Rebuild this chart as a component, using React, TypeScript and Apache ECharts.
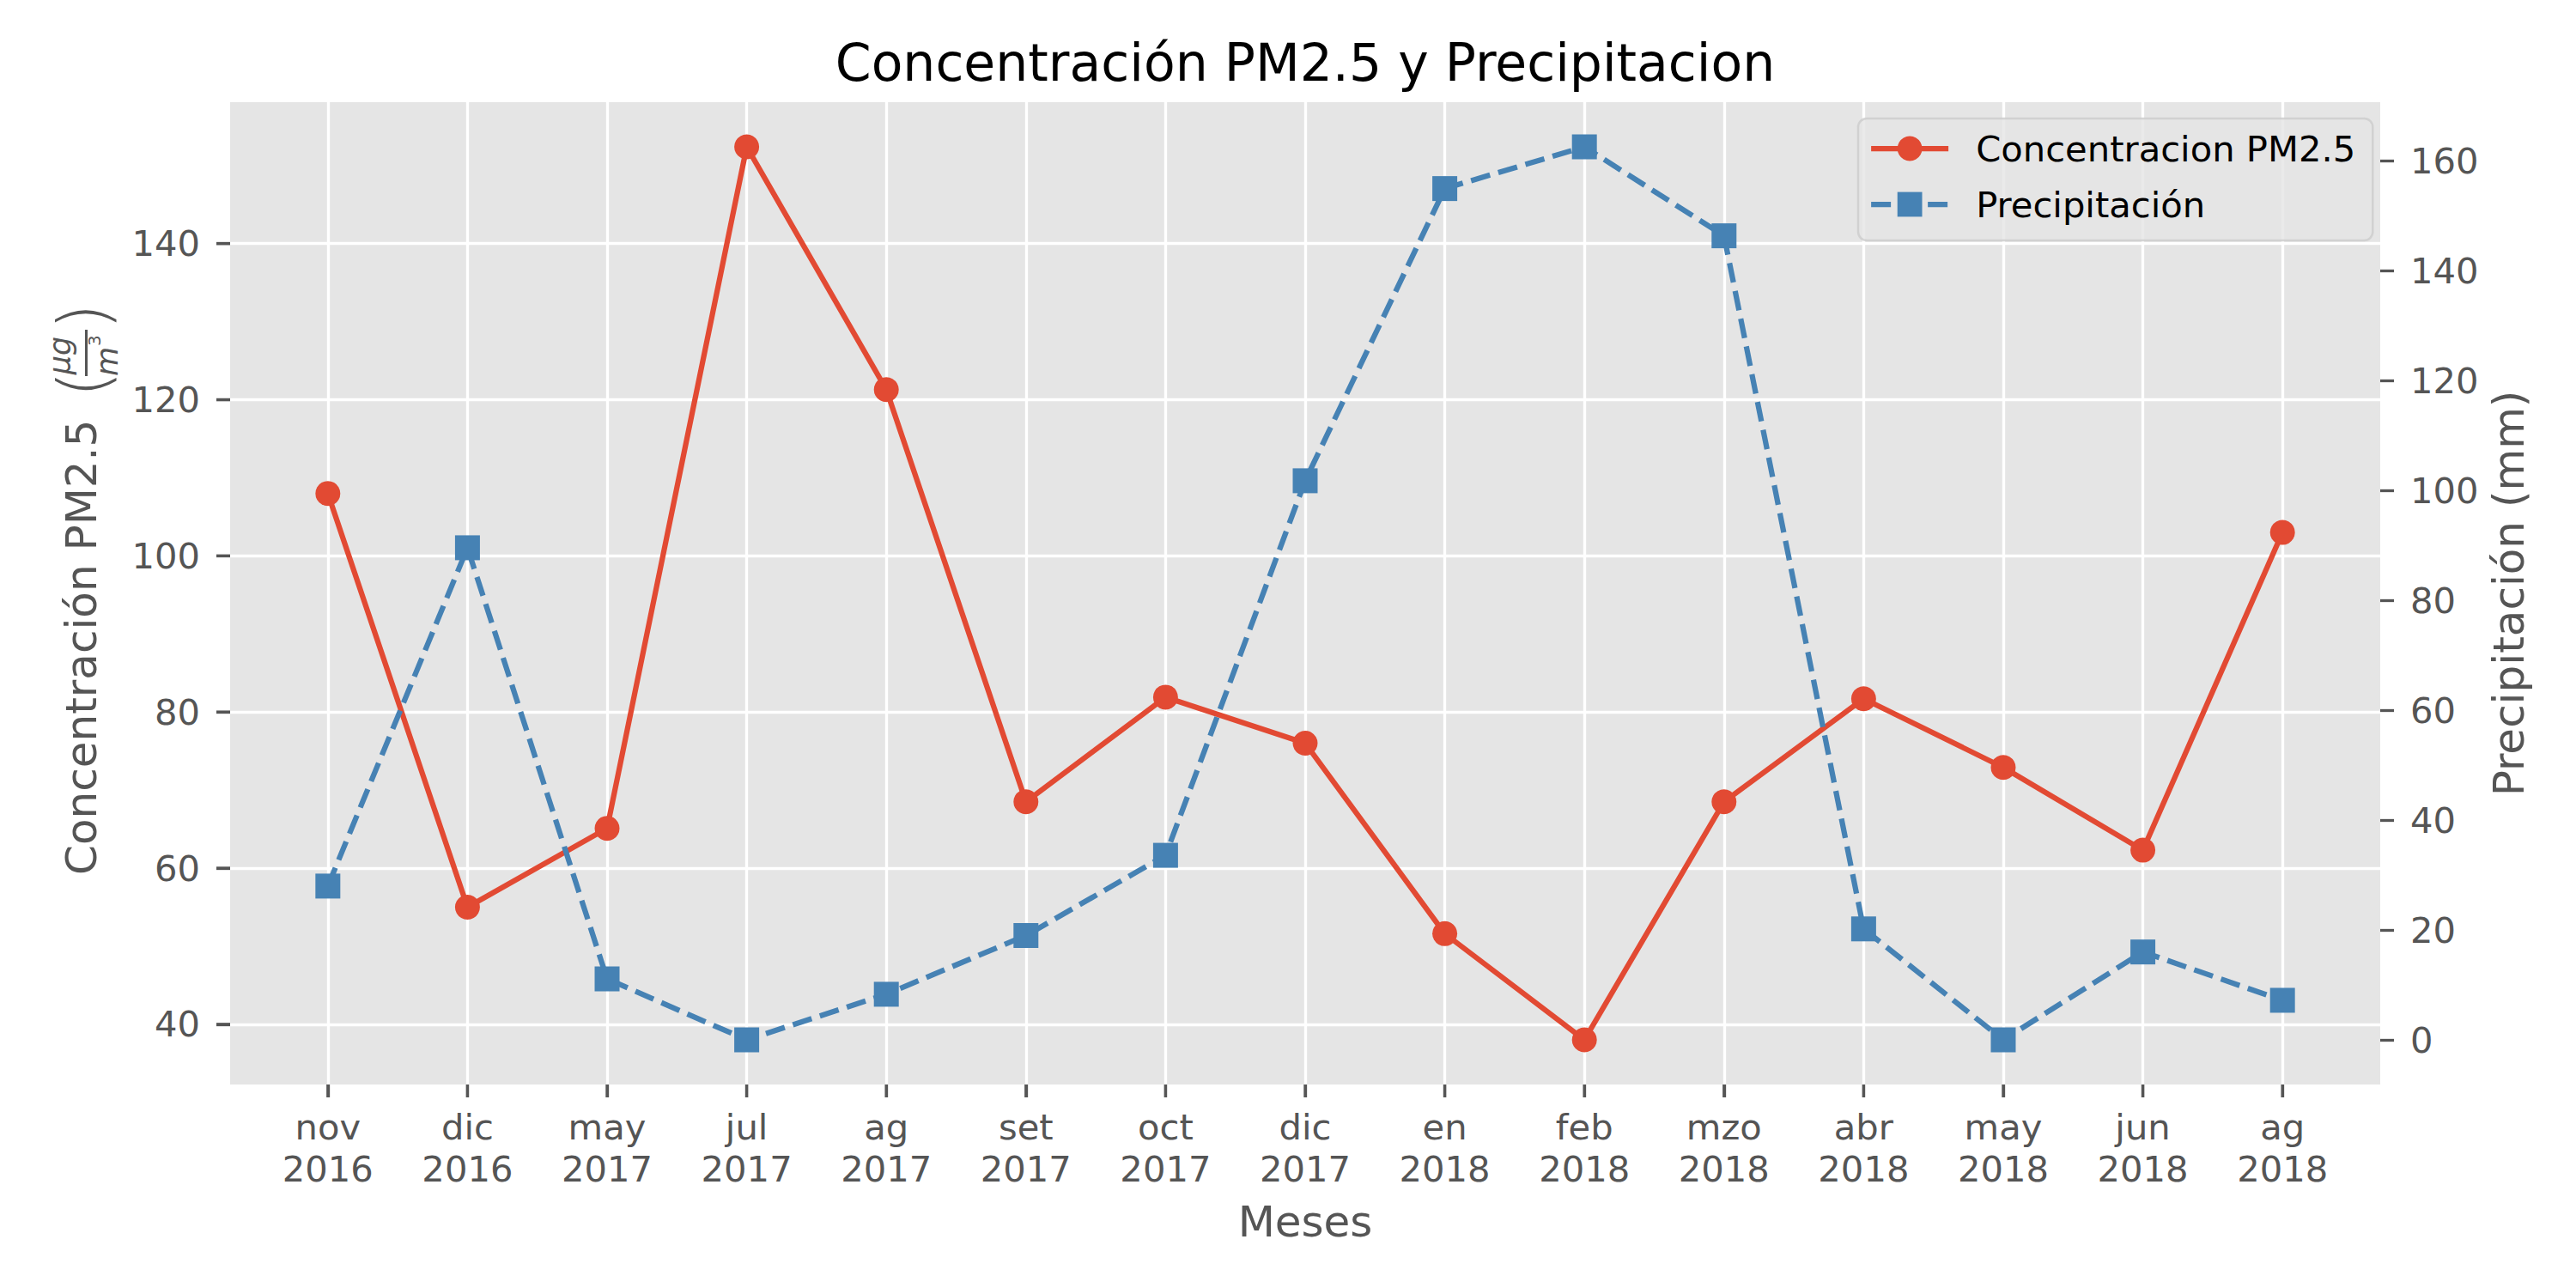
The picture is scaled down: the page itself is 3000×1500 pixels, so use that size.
import React, { useEffect, useRef } from 'react';
import * as echarts from 'echarts';

const months = ['nov', 'dic', 'may', 'jul', 'ag', 'set', 'oct', 'dic', 'en', 'feb', 'mzo', 'abr', 'may', 'jun', 'ag'];
const years = ['2016', '2016', '2017', '2017', '2017', '2017', '2017', '2017', '2018', '2018', '2018', '2018', '2018', '2018', '2018'];
const pm25 = [108.0, 55.0, 65.1, 152.4, 121.3, 68.5, 81.9, 76.0, 51.6, 38.0, 68.5, 81.7, 72.9, 62.3, 103.0];
const precip = [28.0, 89.6, 11.1, 0.0, 8.3, 19.0, 33.6, 101.8, 155.0, 162.6, 146.4, 20.2, 0.0, 16.0, 7.2];
const leftTicks = [40, 60, 80, 100, 120, 140];
const rightTicks = [0, 20, 40, 60, 80, 100, 120, 140, 160];
const seriesNames = ['Concentracion PM2.5', 'Precipitación'];
const titleText = 'Concentración PM2.5 y Precipitacion';
const xName = 'Meses';
const yLeftName = 'Concentración PM2.5';
const yRightName = 'Precipitación (mm)';

const FONT = 'DejaVu Sans';
const RED = '#E24A33';
const BLUE = '#4682B4';
const GRAY = '#555555';

function padded(vals: number[]): [number, number] {
  const mn = Math.min(...vals);
  const mx = Math.max(...vals);
  const p = (mx - mn) * 0.05;
  return [mn - p, mx + p];
}

export default function App() {
  const ref = useRef<HTMLDivElement>(null);
  useEffect(() => {
    document.body.style.margin = '0';
    if (!ref.current) return;
    const chart = echarts.init(ref.current, undefined, { renderer: 'svg' });
    const idx = months.map((_, i) => i);
    const xr = padded([0, months.length - 1]);
    const lr = padded(pm25);
    const rr = padded(precip);
    const tickStyle = { color: GRAY, width: 3.3 };
    const baseGraphic: any[] = [
      {
        type: 'text', x: 1520, y: 73,
        style: { text: titleText, fontSize: 60, fontFamily: FONT, fill: '#000000', textAlign: 'center', textVerticalAlign: 'middle' },
      },
      {
        type: 'group', x: 0, y: 690, rotation: Math.PI / 2,
        children: [
          { type: 'text', x: -329, y: 95, style: { text: yLeftName, fontSize: 50, fontFamily: FONT, fill: GRAY, textAlign: 'left', textVerticalAlign: 'middle' } },
          { type: 'text', x: 227, y: 97, style: { text: '(', fontSize: 80, fontWeight: 'lighter', fontFamily: FONT, fill: GRAY, textAlign: 'left', textVerticalAlign: 'middle' } },
          { type: 'text', x: 276, y: 70, style: { text: 'μg', fontSize: 35, fontStyle: 'italic', fontFamily: FONT, fill: GRAY, textAlign: 'center', textVerticalAlign: 'middle' } },
          { type: 'rect', shape: { x: 252, y: 99, width: 54, height: 3 }, style: { fill: GRAY } },
          { type: 'text', x: 252, y: 125, style: { text: 'm', fontSize: 35, fontStyle: 'italic', fontFamily: FONT, fill: GRAY, textAlign: 'left', textVerticalAlign: 'middle' } },
          { type: 'text', x: 287, y: 110, style: { text: '3', fontSize: 20, fontFamily: FONT, fill: GRAY, textAlign: 'left', textVerticalAlign: 'middle' } },
          { type: 'text', x: 337, y: 97, style: { text: ')', fontSize: 80, fontWeight: 'lighter', fontFamily: FONT, fill: GRAY, textAlign: 'right', textVerticalAlign: 'middle' } },
        ],
      },
    ];
    const option: any = {
      animation: false,
      backgroundColor: '#ffffff',
      textStyle: { fontFamily: FONT },
      grid: {
        left: 268, right: 228, top: 119, bottom: 237,
        show: true, backgroundColor: '#E5E5E5', borderWidth: 0,
        outerBoundsMode: 'none',
      },
      xAxis: {
        type: 'value', min: xr[0], max: xr[1], position: 'bottom',
        name: xName, nameLocation: 'middle', nameGap: 135,
        nameTextStyle: { fontSize: 50, color: GRAY, fontFamily: FONT },
        axisLine: { show: false, onZero: false },
        axisTick: { show: true, inside: false, customValues: idx, length: 15, lineStyle: tickStyle },
        axisLabel: {
          customValues: idx,
          formatter: (v: number) => months[Math.round(v)] + '\n' + years[Math.round(v)],
          fontSize: 41.7, color: GRAY, lineHeight: 49, margin: 25, fontFamily: FONT,
        },
        splitLine: { show: true, lineStyle: { color: '#ffffff', width: 3.3 } },
      },
      yAxis: [
        {
          type: 'value', min: lr[0], max: lr[1], position: 'left',
          axisLine: { show: false, onZero: false },
          axisTick: { show: true, inside: false, customValues: leftTicks, length: 16, lineStyle: tickStyle },
          axisLabel: { customValues: leftTicks, fontSize: 41.7, color: GRAY, margin: 35, fontFamily: FONT },
          splitLine: { show: true, lineStyle: { color: '#ffffff', width: 3.3 } },
        },
        {
          type: 'value', min: rr[0], max: rr[1], position: 'right',
          name: yRightName, nameLocation: 'middle', nameGap: 124,
          nameTextStyle: { fontSize: 50, color: GRAY, fontFamily: FONT },
          axisLine: { show: false, onZero: false },
          axisTick: { show: true, inside: false, customValues: rightTicks, length: 16, lineStyle: tickStyle },
          axisLabel: { customValues: rightTicks, fontSize: 41.7, color: GRAY, margin: 35, fontFamily: FONT },
          splitLine: { show: false },
        },
      ],
      legend: {
        data: seriesNames, orient: 'vertical', left: 2164, top: 138,
        itemWidth: 90, itemHeight: 36, itemGap: 23,
        padding: [14, 20, 21, 12],
        backgroundColor: 'rgba(229,229,229,0.8)',
        borderColor: 'rgba(204,204,204,0.8)', borderWidth: 2.5, borderRadius: 10,
        lineStyle: { width: 6.25 },
        textStyle: { fontSize: 41.7, color: '#000000', fontFamily: FONT, padding: [0, 0, 0, 27] },
        selectedMode: false,
      },
      series: [
        {
          name: seriesNames[0], type: 'line', xAxisIndex: 0, yAxisIndex: 0,
          data: pm25.map((v, i) => [i, v]),
          symbol: 'circle', symbolSize: 29,
          lineStyle: { color: RED, width: 6.25 },
          itemStyle: { color: RED },
          z: 3,
        },
        {
          name: seriesNames[1], type: 'line', xAxisIndex: 0, yAxisIndex: 1,
          data: precip.map((v, i) => [i, v]),
          symbol: 'rect', symbolSize: 29,
          lineStyle: { color: BLUE, width: 6.25, type: [23, 10] },
          itemStyle: { color: BLUE },
          z: 4,
        },
      ],
      graphic: baseGraphic,
    };
    chart.setOption(option);

    // Extra tick marks on the left and bottom edges, placed through the chart's own scales.
    const plotLeft = Number(chart.convertToPixel({ xAxisIndex: 0 }, xr[0]));
    const plotBottom = Number(chart.convertToPixel({ yAxisIndex: 0 }, lr[0]));
    const tickGraphics: any[] = [];
    if (isFinite(plotLeft) && isFinite(plotBottom)) {
      idx.forEach((i) => {
        const x = Number(chart.convertToPixel({ xAxisIndex: 0 }, i));
        if (!isFinite(x)) return;
        tickGraphics.push({
          type: 'rect', z: 1000, silent: true,
          shape: { x: x - 1.65, y: plotBottom, width: 3.3, height: 15 },
          style: { fill: GRAY },
        });
      });
      leftTicks.forEach((v) => {
        const y = Number(chart.convertToPixel({ yAxisIndex: 0 }, v));
        if (!isFinite(y)) return;
        tickGraphics.push({
          type: 'rect', z: 1000, silent: true,
          shape: { x: plotLeft - 16, y: y - 1.65, width: 16, height: 3.3 },
          style: { fill: GRAY },
        });
      });
      chart.setOption({ graphic: [...baseGraphic, ...tickGraphics] });
    }
    return () => chart.dispose();
  }, []);
  return <div ref={ref} style={{ width: 3000, height: 1500 }} />;
}
